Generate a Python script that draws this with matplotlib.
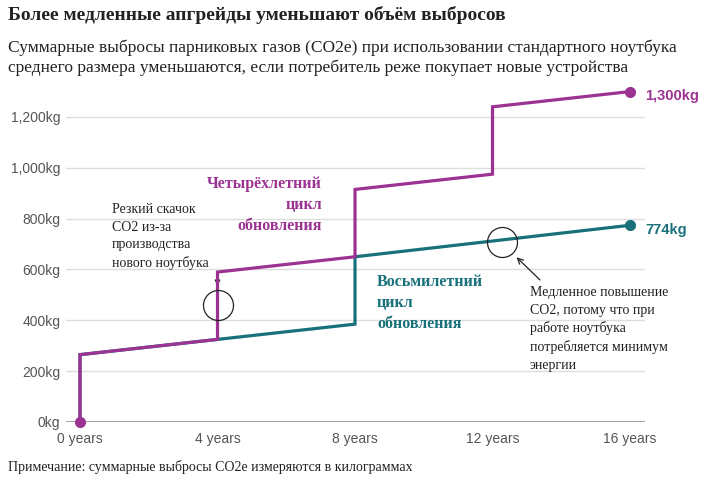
import matplotlib
matplotlib.use("Agg")
import matplotlib.pyplot as plt

# --- Data -------------------------------------------------------------------
years = [0, 4, 8, 12, 16]
xtick_labels = ["0 years", "4 years", "8 years", "12 years", "16 years"]
yticks = [0, 200, 400, 600, 800, 1000, 1200]
ytick_labels = ["0kg", "200kg", "400kg", "600kg", "800kg", "1,000kg", "1,200kg"]

# cumulative emissions (kg CO2e), step at each purchase
four_x = [0, 0, 4, 4, 8, 8, 12, 12, 16]
four_y = [0, 265, 325, 590, 650, 915, 975, 1240, 1300]
eight_x = [0, 0, 4, 8, 8, 16]
eight_y = [0, 265, 325, 385, 650, 774]

PURPLE = "#9c3393"
TEAL = "#17707a"
SERIF = "Liberation Serif"
SANS = "Liberation Sans"

fig = plt.figure(figsize=(7.10, 4.82), dpi=100)
ax = fig.add_axes([66/710, 60/482, 579/710, 340.6/482])
ax.set_xlim(-0.407, 16.436)
ax.set_ylim(0, 1340)

for s in ax.spines.values():
    s.set_visible(False)
ax.set_yticks(yticks)
ax.set_yticklabels(ytick_labels, family=SANS, fontsize=10, color="#555555")
ax.set_xticks(years)
ax.set_xticklabels(xtick_labels, family=SANS, fontsize=10, color="#555555")
ax.tick_params(axis="y", length=0, pad=4)
ax.tick_params(axis="x", length=0, pad=7)
ax.grid(axis="y", color="#dddddd", lw=1)
ax.set_axisbelow(True)
ax.axhline(0, color="#999999", lw=2, zorder=1)

ax.plot(eight_x, eight_y, color=TEAL, lw=2.3, zorder=3, solid_joinstyle="miter")
ax.plot(four_x, four_y, color=PURPLE, lw=2.3, zorder=4, solid_joinstyle="miter")
ax.plot([16], [eight_y[-1]], "o", color=TEAL, ms=7, zorder=5, clip_on=False)
ax.plot([16], [four_y[-1]], "o", color=PURPLE, ms=7, zorder=5, clip_on=False)
ax.plot([0], [0], "o", color=PURPLE, ms=7, zorder=5, clip_on=False)

ax.text(16.44, four_y[-1] - 18, "1,300kg", color=PURPLE, family=SANS,
        fontweight="bold", fontsize=10.5, va="center", ha="left")
ax.text(16.44, eight_y[-1] - 18, "774kg", color=TEAL, family=SANS,
        fontweight="bold", fontsize=10.5, va="center", ha="left")

ax.text(7.04, 968, "Четырёхлетний\nцикл\nобновления", color=PURPLE,
        family=SERIF, fontweight="bold", fontsize=11.5, ha="right", va="top",
        linespacing=1.4)
ax.text(8.64, 582, "Восьмилетний\nцикл\nобновления", color=TEAL,
        family=SERIF, fontweight="bold", fontsize=11.5, ha="left", va="top",
        linespacing=1.4)

# annotation circles
ax.plot([4.01], [460], "o", mfc="none", mec="#222222", mew=0.9, ms=21.6, zorder=6)
ax.plot([12.27], [709], "o", mfc="none", mec="#222222", mew=0.9, ms=21.6, zorder=6)

ax.annotate("", xy=(4, 536), xytext=(4, 584),
            arrowprops=dict(arrowstyle="->", color="#222222", lw=0.9,
                            mutation_scale=8, shrinkA=0, shrinkB=0))
ax.annotate("", xy=(12.70, 648), xytext=(13.38, 559),
            arrowprops=dict(arrowstyle="->", color="#222222", lw=0.9,
                            mutation_scale=10, shrinkA=0, shrinkB=0))

ax.text(0.93, 860, "Резкий скачок\nCO2 из-за\nпроизводства\nнового ноутбука",
        family=SERIF, fontsize=10, color="#222222", ha="left", va="top",
        linespacing=1.45)
ax.text(13.09, 535,
        "Медленное повышение\nCO2, потому что при\nработе ноутбука\nпотребляется минимум\nэнергии",
        family=SERIF, fontsize=10, color="#222222", ha="left", va="top",
        linespacing=1.45)

fig.text(8/710, 1 - 15/482, "Более медленные апгрейды уменьшают объём выбросов",
         family=SERIF, fontweight="bold", fontsize=14, color="#222222",
         ha="left", va="center")
fig.text(8/710, 1 - 40/482,
         "Суммарные выбросы парниковых газов (CO2e) при использовании стандартного ноутбука\n"
         "среднего размера уменьшаются, если потребитель реже покупает новые устройства",
         family=SERIF, fontsize=12.5, color="#222222", ha="left", va="top",
         linespacing=1.25)
fig.text(8/710, 1 - 467/482,
         "Примечание: суммарные выбросы CO2e измеряются в килограммах",
         family=SERIF, fontsize=10, color="#222222", ha="left", va="center")

fig.savefig("out.png", dpi=100, facecolor="white")
